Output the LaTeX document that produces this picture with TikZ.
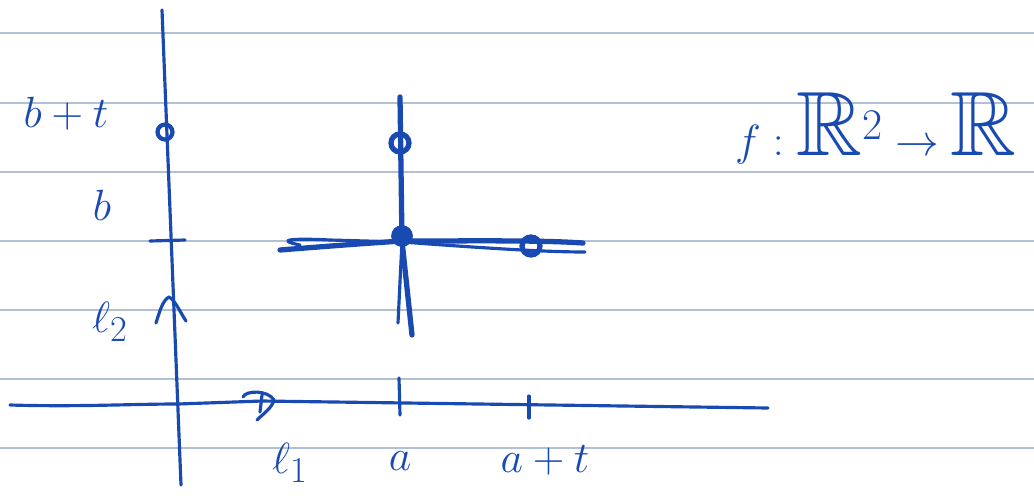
\documentclass[tikz,border=0pt]{standalone}
\usepackage{amssymb}
\usetikzlibrary{arrows.meta}
\definecolor{ink}{RGB}{24,74,178}
\definecolor{rule}{RGB}{178,192,214}
\begin{document}
\begin{tikzpicture}[x=0.02cm,y=-0.02cm,
  ruled/.style={draw=rule,line width=1pt},
  pen/.style={draw=ink,line width=1.8pt,line cap=round,line join=round},
  heavy/.style={draw=ink,line width=3pt,line cap=round,line join=round},
  lbl/.style={text=ink,font=\fontsize{28}{32}\selectfont,inner sep=0pt},
  dotopen/.style={circle,draw=ink,line width=3pt,inner sep=0pt,minimum size=0.36cm},
  dotfull/.style={circle,draw=ink,fill=ink,inner sep=0pt,minimum size=0.42cm}]
\useasboundingbox[fill=white] (0,0) rectangle (1034,498);
% ruled lines
\foreach \y in {33,103,172,241,310,379,448} \draw[ruled] (0,\y) -- (1034,\y);
% coordinates
\coordinate (xl) at (10,405);
\coordinate (xo) at (178,404);
\coordinate (xr) at (768,408);
\coordinate (yt) at (162,10);
\coordinate (yb) at (181,485);
% axes
\draw[pen] (xl) .. controls (80,407) and (130,404) .. (xo) -- (262,401) -- (xr);
\draw[pen] (yt) -- (yb);
% mid arrow marks
\draw[pen] (243,397) .. controls (246,390) and (268,390) .. (274,400) .. controls (272,408) and (263,414) .. (257,420);
\draw[pen] (262,395) -- (260,412);
\draw[pen] (156,323) .. controls (160,310) and (163,300) .. (169,297) .. controls (175,300) and (180,312) .. (186,321);
% ticks
\draw[pen] (150,241) -- (185,240);
\draw[pen] (399,378) -- (400,415);
\draw[pen] (529,396) -- (529,418);
% points on the y axis
\node[dotopen,minimum size=0.3cm,line width=2.4pt] (pbt) at (165,132) {};
% cross in the middle
\draw[heavy] (280,250) .. controls (330,246) and (370,243) .. (402,241) .. controls (470,241) and (540,240) .. (583,243);
\draw[pen] (300,245) .. controls (275,240) and (290,238) .. (330,240) -- (402,242) .. controls (470,247) and (540,252) .. (585,252);
\draw[heavy] (400,97) -- (402,241) -- (412,335);
\draw[pen] (402,241) -- (398,323);
\node[dotfull] (pab) at (402,236) {};
\node[dotopen] (pabt) at (400,143) {};
\node[dotopen] (patb) at (531,246) {};
% labels
\node[lbl] (lbt) at (66,114) {$b+t$};
\node[lbl] (lb) at (102,205) {$b$};
\node[lbl] (ll2) at (110,322) {$\ell_2$};
\node[lbl] (ll1) at (290,463) {$\ell_1$};
\node[lbl] (la) at (400,461) {$a$};
\node[lbl] (lat) at (545,460) {$a+t$};
\node[lbl,font=\fontsize{52}{56}\selectfont] (lf) at (876,128) {$f:\mathbb{R}^2\to\mathbb{R}$};
\end{tikzpicture}
\end{document}
